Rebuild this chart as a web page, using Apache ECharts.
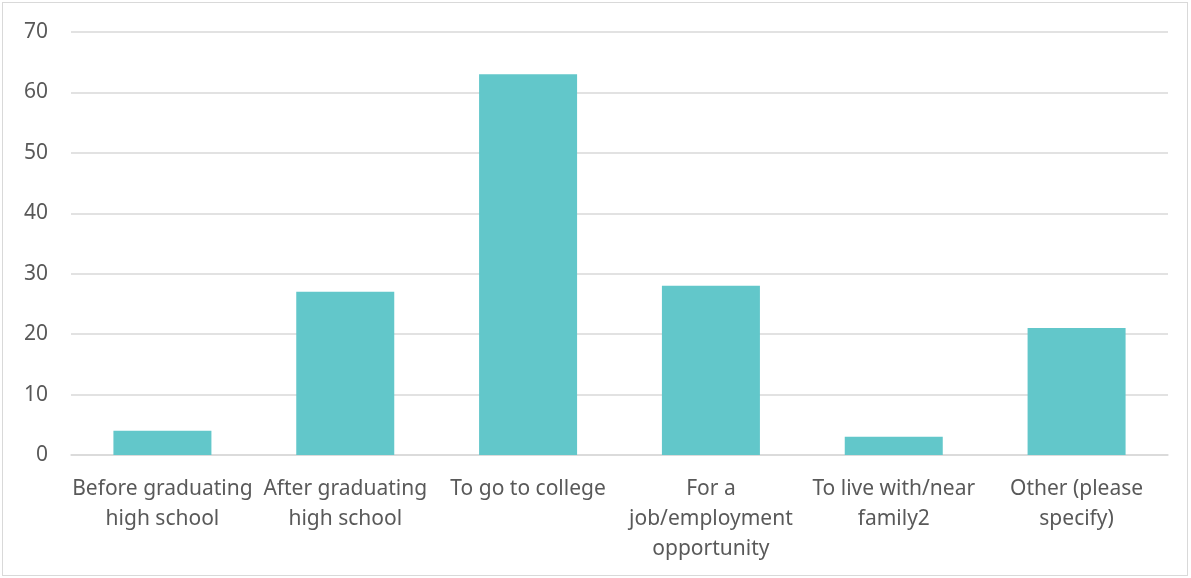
<!DOCTYPE html>
<html>
<head>
<meta charset="utf-8">
<script src="https://cdn.jsdelivr.net/npm/echarts@6/dist/echarts.min.js"></script>
<style>
  html, body { margin: 0; padding: 0; background: #fff; }
  #frame { position: absolute; left: 2px; top: 2px; width: 1186px; height: 574px; border: 1px solid #d9d9d9; box-sizing: border-box; }
  #chart { position: absolute; left: 0; top: 0; width: 1191px; height: 578px; }
</style>
</head>
<body>
<div id="frame"></div>
<div id="chart"></div>
<script>
// Reasons for moving, response counts
const categories = [
  'Before graduating\nhigh school',
  'After graduating\nhigh school',
  'To go to college',
  'For a\njob/employment\nopportunity',
  'To live with/near\nfamily2',
  'Other (please\nspecify)'
];
const counts = [4, 27, 63, 28, 3, 21];
const yTicks = { min: 0, max: 70, interval: 10 };

const chart = echarts.init(document.getElementById('chart'), null, { renderer: 'canvas' });
const font = '"Noto Sans", "Source Sans Pro", sans-serif';
chart.setOption({
  animation: false,
  textStyle: { fontFamily: font },
  grid: { left: 71, right: 23, top: 32, bottom: 123 },
  xAxis: {
    type: 'category',
    data: categories,
    axisTick: { show: false },
    axisLine: { lineStyle: { color: '#d9d9d9', width: 1.5 } },
    axisLabel: {
      color: '#595959', fontSize: 21, fontFamily: font,
      lineHeight: 30, margin: 19, interval: 0, align: 'center'
    }
  },
  yAxis: {
    type: 'value',
    min: yTicks.min, max: yTicks.max, interval: yTicks.interval,
    axisLine: { show: false },
    axisTick: { show: false },
    splitLine: { lineStyle: { color: '#d9d9d9', width: 1.5 } },
    axisLabel: { color: '#595959', fontSize: 21, fontFamily: font, margin: 23 }
  },
  series: [{
    type: 'bar',
    data: counts,
    barWidth: 98,
    itemStyle: { color: '#62C7CA' }
  }]
});
</script>
</body>
</html>
